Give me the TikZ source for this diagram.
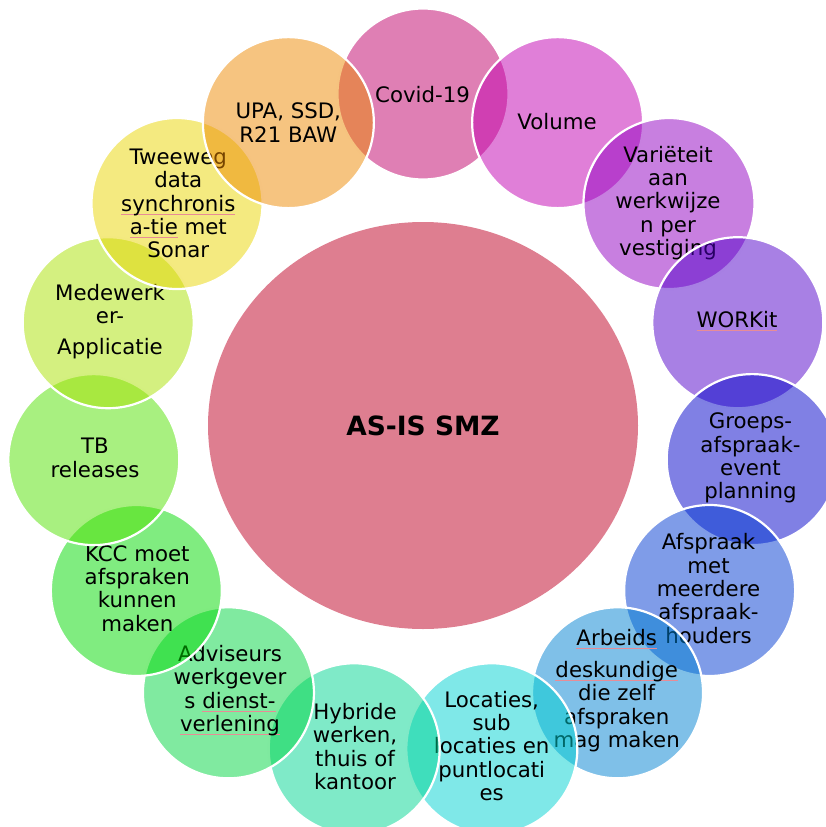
\documentclass[tikz,border=0pt]{standalone}
\usepackage{fontspec}
\setmainfont{DejaVu Sans}
\usetikzlibrary{shapes.geometric}
\definecolor{cmid}{RGB}{222,126,144}
\definecolor{c1}{RGB}{191,0,105}
\definecolor{c2}{RGB}{193,0,177}
\definecolor{c3}{RGB}{145,0,193}
\definecolor{c4}{RGB}{81,1,201}
\definecolor{c5}{RGB}{1,1,201}
\definecolor{c6}{RGB}{0,57,209}
\definecolor{c7}{RGB}{0,129,209}
\definecolor{c8}{RGB}{0,209,209}
\definecolor{c9}{RGB}{0,213,145}
\definecolor{c10}{RGB}{1,213,65}
\definecolor{c11}{RGB}{1,217,1}
\definecolor{c12}{RGB}{81,225,1}
\definecolor{c13}{RGB}{169,225,1}
\definecolor{c14}{RGB}{233,213,1}
\definecolor{c15}{RGB}{237,137,1}
\definecolor{spellred}{RGB}{232,140,150}
\newcommand\spellmark[1]{\setbox0=\hbox{#1}\rlap{\color{spellred}\rule[-3pt]{\wd0}{0.45pt}}\box0\relax}
\tikzset{
  bub/.style={circle, minimum size=171pt, inner sep=0pt, draw=white, line width=2.2pt, fill opacity=0.5},
  lbl/.style={align=center, font=\fontsize{21.3}{23.3}\selectfont, text=black, inner sep=0pt},
  hub/.style={ellipse, minimum width=430pt, minimum height=407pt, inner sep=0pt, fill=cmid, draw=none,
    font=\fontsize{26.5}{30}\selectfont\bfseries, text=black},
}
\begin{document}
\begin{tikzpicture}[x=1pt, y=-1pt]
\useasboundingbox (0,0) rectangle (826,827);
\node[hub] (hub) at (423,425.5) {AS-IS SMZ};

\node[bub, fill=c1] (b1) at ({423+331*sin(0)}, {425-331*cos(0)}) {};
\node[lbl] (t1) at (422.5,95) {Covid-19};

\node[bub, fill=c2] (b2) at ({423+331*sin(24)}, {425-331*cos(24)}) {};
\node[lbl] (t2) at (557,122) {Volume};

\node[bub, fill=c3] (b3) at ({423+331*sin(48)}, {425-331*cos(48)}) {};
\node[lbl] (t3) at (668,203) {Variëteit\\aan\\werkwijze\\n per\\vestiging};

\node[bub, fill=c4] (b4) at ({423+331*sin(72)}, {425-331*cos(72)}) {};
\node[lbl] (t4) at (737,321) {\spellmark{WORKit}};

\node[bub, fill=c5] (b5) at ({423+331*sin(96)}, {425-331*cos(96)}) {};
\node[lbl] (t5) at (750.5,458) {Groeps-\\afspraak-\\event\\planning};

\node[bub, fill=c6] (b6) at ({423+331*sin(120)}, {425-331*cos(120)}) {};
\node[lbl] (t6) at (708.5,588.5) {Afspraak\\met\\meerdere\\afspraak-\\houders};

\node[bub, fill=c7] (b7) at ({423+331*sin(144)}, {425-331*cos(144)}) {};
\node[lbl] (t7) at (616.7,690.5) {\spellmark{Arbeids}\\[8.7pt]\spellmark{deskundige}\\die zelf\\afspraken\\mag maken};

\node[bub, fill=c8] (b8) at ({423+331*sin(168)}, {425-331*cos(168)}) {};
\node[lbl] (t8) at (491.7,746) {Locaties,\\sub\\locaties en\\puntlocati\\es};

\node[bub, fill=c9] (b9) at ({423+331*sin(192)}, {425-331*cos(192)}) {};
\node[lbl] (t9) at (355,746.5) {Hybride\\werken,\\thuis of\\kantoor};

\node[bub, fill=c10] (b10) at ({423+331*sin(216)}, {425-331*cos(216)}) {};
\node[lbl] (t10) at (230,690.5) {Adviseurs\\werkgever\\s \spellmark{dienst-}\\\spellmark{verlening}};

\node[bub, fill=c11] (b11) at ({423+331*sin(240)}, {425-331*cos(240)}) {};
\node[lbl] (t11) at (137.3,588.5) {KCC moet\\afspraken\\kunnen\\maken};

\node[bub, fill=c12] (b12) at ({423+331*sin(264)}, {425-331*cos(264)}) {};
\node[lbl] (t12) at (95,458) {TB\\releases};

\node[bub, fill=c13] (b13) at ({423+331*sin(288)}, {425-331*cos(288)}) {};
\node[lbl] (t13) at (110,321.5) {Medewerk\\er-\\[7.7pt]Applicatie};

\node[bub, fill=c14] (b14) at ({423+331*sin(312)}, {425-331*cos(312)}) {};
\node[lbl] (t14) at (178.3,203.5) {Tweeweg\\data\\\spellmark{synchronis}\\\spellmark{a-tie} met\\Sonar};

\node[bub, fill=c15] (b15) at ({423+331*sin(336)}, {425-331*cos(336)}) {};
\node[lbl] (t15) at (288.3,122.5) {UPA, SSD,\\R21 BAW};
\end{tikzpicture}
\end{document}
